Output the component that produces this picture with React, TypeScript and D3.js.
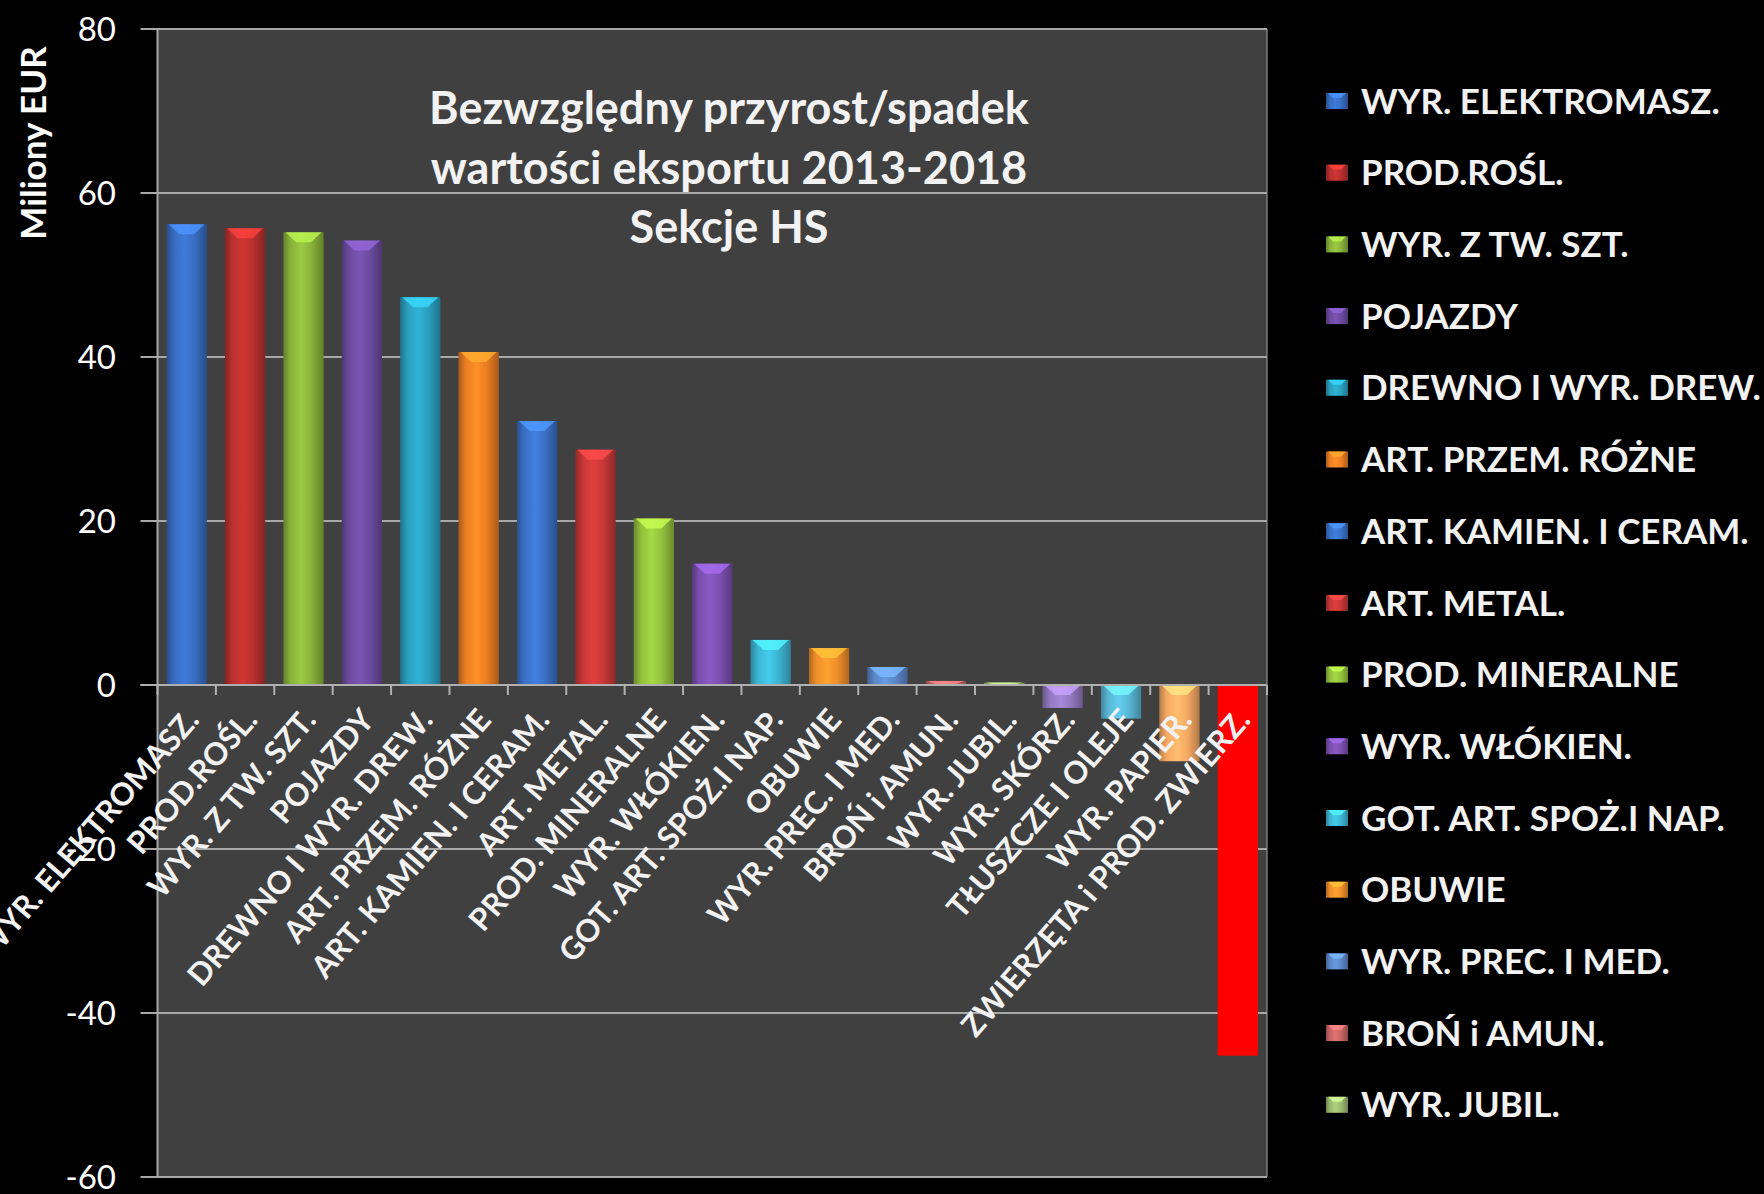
import React from "react";
import * as d3 from "d3";

const categories = [
  "WYR. ELEKTROMASZ.",
  "PROD.ROŚL.",
  "WYR. Z TW. SZT.",
  "POJAZDY",
  "DREWNO I WYR. DREW.",
  "ART. PRZEM. RÓŻNE",
  "ART. KAMIEN. I CERAM.",
  "ART. METAL.",
  "PROD. MINERALNE",
  "WYR. WŁÓKIEN.",
  "GOT. ART. SPOŻ.I NAP.",
  "OBUWIE",
  "WYR. PREC. I MED.",
  "BROŃ i AMUN.",
  "WYR. JUBIL.",
  "WYR. SKÓRZ.",
  "TŁUSZCZE I OLEJE",
  "WYR. PAPIER.",
  "ZWIERZĘTA i PROD. ZWIERZ.",
];

const legendLabels = [
  "WYR. ELEKTROMASZ.",
  "PROD.ROŚL.",
  "WYR. Z TW. SZT.",
  "POJAZDY",
  "DREWNO I WYR. DREW.",
  "ART. PRZEM. RÓŻNE",
  "ART. KAMIEN. I CERAM.",
  "ART. METAL.",
  "PROD. MINERALNE",
  "WYR. WŁÓKIEN.",
  "GOT. ART. SPOŻ.I NAP.",
  "OBUWIE",
  "WYR. PREC. I MED.",
  "BROŃ i AMUN.",
  "WYR. JUBIL.",
];

const values = [
  56.2, 55.7, 55.2, 54.2, 47.3, 40.6, 32.2, 28.7, 20.3, 14.8, 5.5, 4.5, 2.2,
  0.5, 0.3, -2.8, -4.1, -9.3, -45.2,
];

const colors = [
  "#386cc0", "#b8302e", "#88b23a", "#6c4a9e", "#2a9ebd", "#ea7e22",
  "#3a70c6", "#c73737", "#92c03c", "#7a4fae", "#3cb4d2", "#ef8e2a",
  "#5b87c8", "#c86464", "#9bb870", "#9378c0", "#58b6d4", "#f5a862",
  "#ff0000",
];

const yTicks = [80, 60, 40, 20, 0, -20, -40, -60];
const titleLines = ["Bezwzględny przyrost/spadek", "wartości eksportu 2013-2018", "Sekcje HS"];
const yAxisTitle = "Miliony EUR";

const W = 1764;
const H = 1194;
const plot = { left: 157.5, right: 1267, top: 29, bottom: 1177 };
const FONT = "Lato, 'Open Sans', sans-serif";

export default function App() {
  const x = d3
    .scaleBand<string>()
    .domain(categories)
    .range([plot.left, plot.right])
    .paddingInner(0.31)
    .paddingOuter(0.155);
  const y = d3.scaleLinear().domain([-60, 80]).range([plot.bottom, plot.top]);
  const y0 = y(0);
  const step = (plot.right - plot.left) / categories.length;
  const boundaries = d3.range(categories.length + 1).map((i) => plot.left + i * step);

  const bw = x.bandwidth();

  return (
    <svg
      width={W}
      height={H}
      style={{ position: "absolute", left: 0, top: 0, display: "block" }}
      fontFamily={FONT}
    >
      <defs>
        {colors.map((c, i) => {
          const base = d3.color(c)!;
          const dark = d3.color(c)!.darker(0.9).formatHex();
          const light = d3.color(c)!.brighter(0.35).formatHex();
          return (
            <linearGradient key={i} id={`g${i}`} x1="0" x2="1" y1="0" y2="0">
              <stop offset="0" stopColor={dark} />
              <stop offset="0.18" stopColor={base.formatHex()} />
              <stop offset="0.45" stopColor={light} />
              <stop offset="0.7" stopColor={base.formatHex()} />
              <stop offset="1" stopColor={dark} />
            </linearGradient>
          );
        })}
      </defs>
      <rect x={0} y={0} width={W} height={H} fill="#000" />
      <rect
        x={plot.left}
        y={plot.top}
        width={plot.right - plot.left}
        height={plot.bottom - plot.top}
        fill="#404040"
      />
      {/* gridlines */}
      {yTicks.map((t) => (
        <g key={t}>
          <line
            x1={plot.left - 17}
            x2={plot.right}
            y1={y(t)}
            y2={y(t)}
            stroke="#a8a8a8"
            strokeWidth={2}
          />
          <text
            x={116}
            y={y(t)}
            dy="0.36em"
            textAnchor="end"
            fill="#ffffff"
            fontSize={33}
          >
            {t}
          </text>
        </g>
      ))}
      <line x1={plot.left} x2={plot.left} y1={plot.top} y2={plot.bottom} stroke="#a8a8a8" strokeWidth={2} />
      <line x1={plot.right} x2={plot.right} y1={plot.top} y2={plot.bottom} stroke="#a8a8a8" strokeWidth={1} />

      {/* title */}
      {titleLines.map((l, i) => (
        <text
          key={i}
          x={729}
          y={124 + i * 59.6}
          textAnchor="middle"
          fill="#f2f2f2"
          fontWeight="bold"
          fontSize={45}
        >
          {l}
        </text>
      ))}

      {/* y axis title */}
      <text
        transform={`translate(46, 143) rotate(-90)`}
        textAnchor="middle"
        fill="#ffffff"
        fontWeight="bold"
        fontSize={35}
      >
        {yAxisTitle}
      </text>

      {/* bars */}
      {categories.map((c, i) => {
        const v = values[i];
        const top = y(Math.max(0, v));
        const bot = y(Math.min(0, v));
        const h = Math.max(1, bot - top);
        const bx = x(c)!;
        const hl = Math.min(10, h);
        const hiColor = d3.color(colors[i])!.brighter(0.9).formatHex();
        return (
          <g key={c}>
            <rect x={bx} y={top} width={bw} height={h} fill={i === 18 ? "#ff0000" : `url(#g${i})`} />
            {i !== 18 && (
              <polygon
                points={`${bx + 2},${top} ${bx + bw - 2},${top} ${bx + bw * 0.68},${top + hl} ${bx + bw * 0.32},${top + hl}`}
                fill={hiColor}
                opacity={0.8}
              />
            )}
          </g>
        );
      })}

      {/* zero axis */}
      <line x1={plot.left - 17} x2={plot.right} y1={y0} y2={y0} stroke="#b0b0b0" strokeWidth={2} />
      {boundaries.map((bx, i) => (
        <line key={i} x1={bx} x2={bx} y1={y0} y2={y0 + 10} stroke="#b0b0b0" strokeWidth={2} />
      ))}

      {/* x labels */}
      {categories.map((c) => {
        const cx = x(c)! + bw / 2;
        return (
          <text
            key={c}
            transform={`translate(${cx + 14}, ${y0 + 36}) rotate(-49)`}
            textAnchor="end"
            fill="#f2f2f2"
            fontWeight="bold"
            fontSize={31}
          >
            {c}
          </text>
        );
      })}

      {/* legend */}
      {legendLabels.map((l, i) => {
        const ly = 101 + i * 71.7;
        const c = colors[i];
        return (
          <g key={l}>
            <rect x={1326} y={ly - 8} width={22} height={16} fill={`url(#g${i})`} />
            <polygon
              points={`${1328},${ly - 8} ${1346},${ly - 8} ${1341},${ly - 3} ${1333},${ly - 3}`}
              fill={d3.color(c)!.brighter(0.9).formatHex()}
              opacity={0.8}
            />
            <text x={1361} y={ly} dy="0.36em" fill="#f2f2f2" fontWeight="bold" fontSize={35}>
              {l}
            </text>
          </g>
        );
      })}
    </svg>
  );
}
